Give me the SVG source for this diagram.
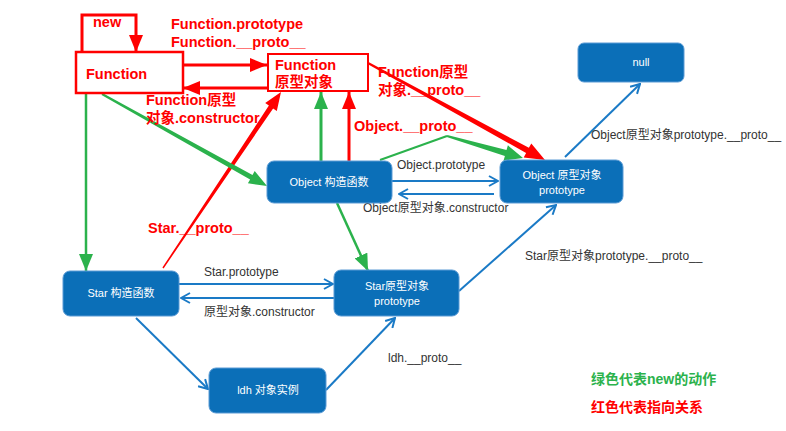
<svg xmlns="http://www.w3.org/2000/svg" width="786" height="431" viewBox="0 0 786 431">
<defs>
<style>
.node{fill:#0b6fb8;stroke:#5b9bd5;stroke-width:1}
.nt{fill:#ffffff;font-family:"Liberation Sans","Noto Sans CJK SC",sans-serif;font-size:11px;text-anchor:middle}
.rl{fill:#ff0000;font-family:"Liberation Sans","Noto Sans CJK SC",sans-serif;font-size:14.5px;font-weight:bold}
.bl{fill:#333333;font-family:"Liberation Sans","Noto Sans CJK SC",sans-serif;font-size:12px}
.blue{stroke:#1a7ac6;stroke-width:2;fill:none}
.red{stroke:#ff0000;fill:none}
.green{stroke:#2bb24c;fill:none}
</style>
<marker id="ab" markerUnits="userSpaceOnUse" markerWidth="11" markerHeight="12" refX="10" refY="6" orient="auto"><path d="M1,1 L10,6 L1,11" fill="none" stroke="#1a7ac6" stroke-width="2"/></marker>
<marker id="ar" markerUnits="userSpaceOnUse" markerWidth="17" markerHeight="14" refX="17" refY="7" orient="auto"><path d="M0,0 L17,7 L0,14 z" fill="#ff0000"/></marker>
<marker id="ag" markerUnits="userSpaceOnUse" markerWidth="17" markerHeight="14" refX="17" refY="7" orient="auto"><path d="M0,0 L17,7 L0,14 z" fill="#2bb24c"/></marker>
</defs>
<rect width="786" height="431" fill="#ffffff"/>

<g id="connectors">
<!-- blue -->
<line class="blue" x1="179" y1="284" x2="333" y2="284" marker-end="url(#ab)"/>
<line class="blue" x1="334" y1="298" x2="181" y2="298" marker-end="url(#ab)"/>
<line class="blue" x1="136" y1="318" x2="208" y2="389" marker-end="url(#ab)"/>
<line class="blue" x1="326" y1="390" x2="395" y2="318" marker-end="url(#ab)"/>
<line class="blue" x1="459" y1="291" x2="556" y2="205" marker-end="url(#ab)"/>
<line class="blue" x1="565" y1="157" x2="640" y2="84" marker-end="url(#ab)"/>
<line class="blue" x1="392" y1="181" x2="498" y2="181" marker-end="url(#ab)"/>
<line class="blue" x1="494" y1="194" x2="399" y2="194" marker-end="url(#ab)"/>
<!-- red -->
<polyline class="red" stroke-width="3" points="82,52 82,15 136,15 136,52" marker-end="url(#ar)"/>
<line class="red" stroke-width="3" x1="184" y1="65" x2="267" y2="65" marker-end="url(#ar)"/>
<line class="red" stroke-width="3" x1="268" y1="88" x2="183" y2="88" marker-end="url(#ar)"/>
<line class="red" stroke-width="3" x1="349" y1="161" x2="349" y2="92" marker-end="url(#ar)"/>
<polygon fill="#ff0000" points="163.6,268.4 273.1,108.4 276.8,110.9 281,92 265.2,103.1 268.9,105.6 162.4,267.6"/>
<polygon fill="#ff0000" points="367.5,63.9 526.1,153.0 523.7,157.4 545,160 531.3,143.4 528.9,147.8 368.5,62.1"/>
<!-- green -->
<line class="green" stroke-width="2.5" x1="86" y1="94" x2="86" y2="271" marker-end="url(#ag)"/>
<polygon fill="#2bb24c" points="101.5,94.9 250.1,179.4 247.9,183.3 267,186 254.7,171.1 252.5,175.0 102.5,93.1"/>
<line class="green" stroke-width="3" x1="321" y1="161" x2="321" y2="92" marker-end="url(#ag)"/>
<line class="green" stroke-width="2.5" x1="337" y1="203" x2="368" y2="271" marker-end="url(#ag)"/>
<polyline class="green" stroke-width="2" points="380,160 447,136"/>
<polygon fill="#2bb24c" points="446.7,137.0 504.9,155.9 503.5,160.7 523,158 507.9,145.3 506.5,150.1 447.3,135.0"/>
</g>

<g id="labels">
<text class="rl" x="93" y="27">new</text>
<text class="rl" x="171" y="29">Function.prototype</text>
<text class="rl" x="171" y="47">Function.__proto__</text>
<text class="rl" x="146" y="105">Function原型</text>
<text class="rl" x="146" y="123">对象.constructor</text>
<text class="rl" x="378" y="77">Function原型</text>
<text class="rl" x="378" y="95">对象.__proto__</text>
<text class="rl" x="354" y="131">Object.__proto__</text>
<text class="rl" x="148" y="233">Star.__proto__</text>
<text class="bl" x="397" y="169">Object.prototype</text>
<text class="bl" x="363" y="212">Object原型对象.constructor</text>
<text class="bl" x="591" y="139">Object原型对象prototype.__proto__</text>
<text class="bl" x="525" y="260">Star原型对象prototype.__proto__</text>
<text class="bl" x="204" y="276">Star.prototype</text>
<text class="bl" x="204" y="316">原型对象.constructor</text>
<text class="bl" x="388" y="362">ldh.__proto__</text>
<text x="591" y="384" fill="#2bb24c" font-family="Liberation Sans,'Noto Sans CJK SC',sans-serif" font-size="14" font-weight="bold">绿色代表new的动作</text>
<text x="591" y="412" fill="#ff0000" font-family="Liberation Sans,'Noto Sans CJK SC',sans-serif" font-size="14" font-weight="bold">红色代表指向关系</text>
</g>

<g id="function">
<rect x="76" y="52" width="107" height="41" fill="#ffffff" stroke="#ff0000" stroke-width="2.5"/>
<text class="rl" x="86" y="79">Function</text>
</g>
<g id="function-prototype">
<rect x="268" y="54" width="100" height="37" fill="#ffffff" stroke="#ff0000" stroke-width="2"/>
<text class="rl" x="275" y="70">Function</text>
<text class="rl" x="275" y="87" font-size="14">原型对象</text>
</g>
<g id="null">
<rect class="node" x="578" y="43" width="106" height="39" rx="6"/>
<text class="nt" x="641" y="66">null</text>
</g>
<g id="object-ctor">
<rect class="node" x="267" y="161" width="125" height="42" rx="7"/>
<text class="nt" x="329" y="186">Object 构造函数</text>
</g>
<g id="object-prototype">
<rect class="node" x="500" y="160" width="123" height="43" rx="7"/>
<text class="nt" x="562" y="179">Object 原型对象</text>
<text class="nt" x="562" y="194">prototype</text>
</g>
<g id="star-ctor">
<rect class="node" x="63" y="271" width="116" height="45" rx="7"/>
<text class="nt" x="121" y="297">Star 构造函数</text>
</g>
<g id="star-prototype">
<rect class="node" x="334" y="270" width="125" height="46" rx="7"/>
<text class="nt" x="397" y="290">Star原型对象</text>
<text class="nt" x="397" y="305">prototype</text>
</g>
<g id="ldh">
<rect class="node" x="209" y="368" width="117" height="45" rx="7"/>
<text class="nt" x="268" y="394">ldh 对象实例</text>
</g>
</svg>
